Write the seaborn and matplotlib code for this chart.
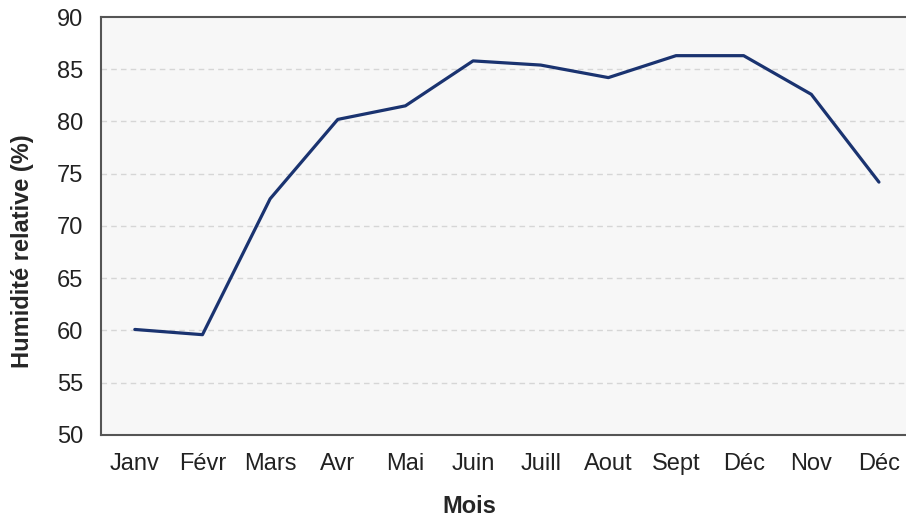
import matplotlib
matplotlib.use("Agg")
import matplotlib.pyplot as plt
import numpy as np
import pandas as pd
import seaborn as sns

# month labels as printed on the chart (the 10th one really reads "Déc")
mois = ["Janv", "Févr", "Mars", "Avr", "Mai", "Juin", "Juill", "Aout",
        "Sept", "Déc", "Nov", "Déc"]
humidite = [60.1, 59.6, 72.6, 80.2, 81.5, 85.8, 85.4, 84.2, 86.3, 86.3, 82.6, 74.2]
yticks = [50, 55, 60, 65, 70, 75, 80, 85, 90]

sns.set_theme(style="white")
plt.rcParams['font.family'] = ['Liberation Sans', 'DejaVu Sans']

df = pd.DataFrame({"pos": np.arange(len(mois)), "humidite": humidite})

fig = plt.figure(figsize=(9.06, 5.17), dpi=100)
ax = fig.add_axes([101 / 906, (517 - 435) / 517, (906 - 101) / 906, (435 - 17) / 517])
ax.set_facecolor("#f7f7f7")

sns.lineplot(data=df, x="pos", y="humidite", ax=ax, color="#1a3370", linewidth=2.3)

ax.set_ylim(50, 90)
ax.set_xlim(-0.5, 11.4)
ax.set_yticks(yticks)
ax.set_xticks(df["pos"])
ax.set_xticklabels(mois)
ax.tick_params(axis="both", labelsize=17, colors="#222222", length=0)
ax.tick_params(axis="x", pad=13)
ax.tick_params(axis="y", pad=13)

# dashed horizontal guides
for v in yticks[1:-1]:
    ax.axhline(v, color="#d6d6d6", linestyle=(0, (4, 3)), linewidth=1, zorder=0)

for side in ["left", "bottom", "top"]:
    ax.spines[side].set_color("#555555")
    ax.spines[side].set_linewidth(1.5)
ax.spines["right"].set_visible(False)

ax.set_xlabel("Mois", fontsize=17, fontweight="bold", va="center")
ax.set_ylabel("Humidité relative (%)", fontsize=17, fontweight="bold", va="center")
ax.xaxis.set_label_coords(0.458, -0.172)
ax.yaxis.set_label_coords(-0.098, 0.44)

fig.savefig("out.png", dpi=100)
